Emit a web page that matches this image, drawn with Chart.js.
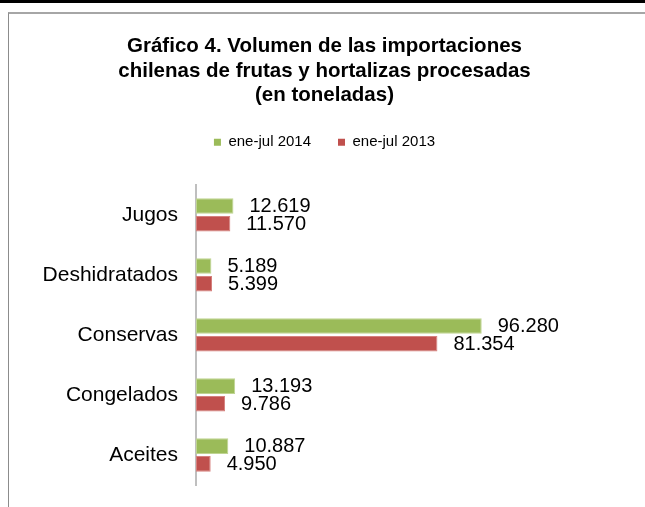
<!DOCTYPE html>
<html>
<head>
<meta charset="utf-8">
<script src="https://cdn.jsdelivr.net/npm/chart.js@4.4.1/dist/chart.umd.min.js"></script>
<style>
  html, body { margin: 0; padding: 0; background: #fff; }
  body { width: 645px; height: 507px; position: relative; overflow: hidden; }
  #chart { position: absolute; left: 0; top: 0; }
  .topbar { position: absolute; left: 0; top: 0; width: 645px; height: 3px; background: #000; }
  .frame { position: absolute; left: 8px; top: 12px; width: 700px; height: 600px;
           border-top: 2px solid #a6a6a6; border-left: 1px solid #8c8c8c; }
</style>
</head>
<body>
<div class="topbar"></div>
<div class="frame"></div>
<canvas id="chart" width="645" height="507"></canvas>
<script>
// Datos del gráfico (toneladas)
const categories = ['Jugos', 'Deshidratados', 'Conservas', 'Congelados', 'Aceites'];
const seriesLabels = ['ene-jul 2014', 'ene-jul 2013'];
const values2014 = [12619, 5189, 96280, 13193, 10887];
const values2013 = [11570, 5399, 81354, 9786, 4950];

const titleLines = [
    'Gráfico 4. Volumen de las importaciones',
    'chilenas de frutas y hortalizas procesadas',
    '(en toneladas)'
];

const FONT = "'Liberation Sans', Arial, sans-serif";

// 12619 -> "12.619"
function formatThousands(v) {
    return String(v).replace(/\B(?=(\d{3})+(?!\d))/g, '.');
}

// extra space under the legend
const legendGap = {
    id: 'legendGap',
    beforeInit(chart) {
        if (!chart.legend) return;
        const origFit = chart.legend.fit;
        chart.legend.fit = function () {
            origFit.call(this);
            this.height += 25;
        };
    }
};

// value labels to the right of each bar
const barValues = {
    id: 'barValues',
    afterDatasetsDraw(chart) {
        const ctx = chart.ctx;
        ctx.save();
        ctx.font = '20px ' + FONT;
        ctx.fillStyle = '#000';
        ctx.textAlign = 'left';
        ctx.textBaseline = 'middle';
        chart.data.datasets.forEach((ds, i) => {
            const meta = chart.getDatasetMeta(i);
            meta.data.forEach((bar, j) => {
                ctx.fillText(formatThousands(ds.data[j]), bar.x + 16, bar.y + 0.5);
            });
        });
        ctx.restore();
    }
};

const canvas = document.getElementById('chart');

new Chart(canvas, {
    type: 'bar',
    data: {
        labels: categories,
        datasets: [
            {
                label: seriesLabels[0],
                data: values2014,
                backgroundColor: '#9bbb59',
                borderColor: '#bfd492',
                borderWidth: 1,
                borderSkipped: false,
                categoryPercentage: 0.59,
                barPercentage: 0.88
            },
            {
                label: seriesLabels[1],
                data: values2013,
                backgroundColor: '#c0504d',
                borderColor: '#d6817e',
                borderWidth: 1,
                borderSkipped: false,
                categoryPercentage: 0.59,
                barPercentage: 0.88
            }
        ]
    },
    options: {
        indexAxis: 'y',
        responsive: false,
        animation: false,
        layout: {
            padding: { left: 4, right: 0, top: 0, bottom: 22 }
        },
        plugins: {
            title: {
                display: true,
                text: titleLines,
                color: '#000',
                font: { family: FONT, size: 20.5, weight: 'bold', lineHeight: 1.2 },
                padding: { top: 34, bottom: 0 }
            },
            legend: {
                display: true,
                position: 'top',
                labels: {
                    boxWidth: 7,
                    boxHeight: 7,
                    padding: 27,
                    color: '#000',
                    font: { family: FONT, size: 15 },
                    generateLabels(chart) {
                        const items = Chart.defaults.plugins.legend.labels.generateLabels(chart);
                        items.forEach(it => { it.lineWidth = 0; });
                        return items;
                    }
                }
            },
            tooltip: { enabled: false }
        },
        scales: {
            x: {
                display: false,
                min: 0,
                max: 151300
            },
            y: {
                grid: { display: false, drawTicks: false },
                border: { display: true, color: '#bfbfbf', width: 2 },
                ticks: {
                    color: '#000',
                    padding: 18,
                    font: { family: FONT, size: 21 }
                },
                afterFit(scale) {
                    scale.width = 192;
                    scale.paddingTop = 0;
                    scale.paddingBottom = 0;
                }
            }
        }
    },
    plugins: [legendGap, barValues]
});
</script>
</body>
</html>
